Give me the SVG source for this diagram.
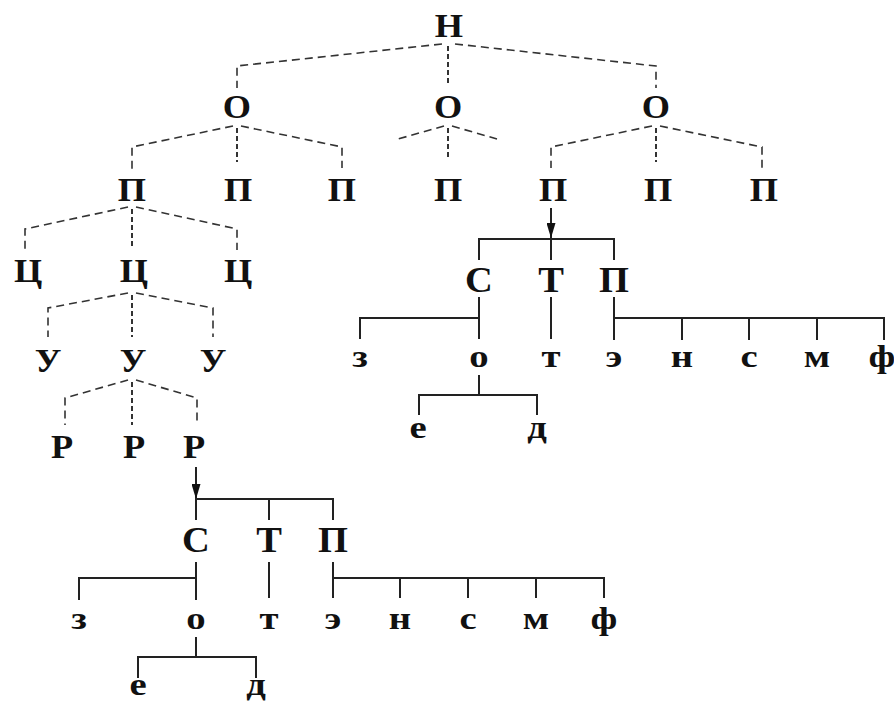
<svg xmlns="http://www.w3.org/2000/svg" width="894" height="701" viewBox="0 0 894 701">
<style>
text{font-family:"Liberation Serif","Times New Roman",serif;font-weight:bold;fill:#111;text-anchor:middle;transform-box:fill-box;transform-origin:center}
.u{font-size:33px;transform:scaleX(1.1)}
.b{font-size:35px;transform:scaleX(1.1)}
.l{font-size:31px;transform:scaleX(1.25)}
.d{fill:none;stroke:#333;stroke-width:1.6;stroke-dasharray:8 5}
.v{fill:none;stroke:#333;stroke-width:2;stroke-dasharray:5 3}
.s{fill:none;stroke:#222;stroke-width:2}
</style>
<defs>
<marker id="ah" viewBox="0 0 10 10" refX="10" refY="5" markerWidth="15" markerHeight="9" orient="auto" markerUnits="userSpaceOnUse" preserveAspectRatio="none">
<path d="M0,0 L10,5 L0,10 z" fill="#111"/>
</marker>
</defs>
<rect width="894" height="701" fill="#fff"/>
<g id="connectors">
<polyline class="d" points="442,44 237,66 237,88"/>
<polyline class="d" points="455,44 656,66 656,88"/>
<line class="v" x1="448" y1="46" x2="448" y2="83"/>
<polyline class="d" points="233,126 132,147 132,170"/>
<polyline class="d" points="241,126 342,147 342,168"/>
<line class="v" x1="237" y1="128" x2="237" y2="162"/>
<polyline class="d" points="444,126 398,139"/>
<polyline class="d" points="452,126 497,139"/>
<line class="v" x1="448" y1="128" x2="448" y2="160"/>
<polyline class="d" points="652,126 551,147 551,168"/>
<polyline class="d" points="660,126 762,147 762,168"/>
<line class="v" x1="656" y1="128" x2="656" y2="162"/>
<polyline class="d" points="128,207 25,229 25,252"/>
<polyline class="d" points="136,207 237,229 237,250"/>
<line class="v" x1="132" y1="209" x2="132" y2="247"/>
<polyline class="d" points="128,293 48,308 48,337"/>
<polyline class="d" points="136,293 213,308 213,337"/>
<line class="v" x1="132" y1="295" x2="132" y2="337"/>
<polyline class="d" points="128,380 65,398 65,425"/>
<polyline class="d" points="136,380 197,398 197,425"/>
<line class="v" x1="132" y1="382" x2="132" y2="425"/>
<line class="s" x1="551" y1="208" x2="551" y2="238" marker-end="url(#ah)"/>
<polyline class="s" points="479,260 479,239 614,239 614,260"/>
<line class="s" x1="551" y1="239" x2="551" y2="260"/>
<line class="s" x1="479" y1="297" x2="479" y2="339"/>
<polyline class="s" points="360,339 360,318 479,318"/>
<line class="s" x1="551" y1="297" x2="551" y2="339"/>
<line class="s" x1="614" y1="297" x2="614" y2="340"/>
<polyline class="s" points="614,318 884,318 884,340"/>
<line class="s" x1="682" y1="318" x2="682" y2="340"/>
<line class="s" x1="749" y1="318" x2="749" y2="340"/>
<line class="s" x1="817" y1="318" x2="817" y2="340"/>
<line class="s" x1="479" y1="375" x2="479" y2="395"/>
<polyline class="s" points="419,415 419,395 537,395 537,415"/>
<line class="s" x1="196" y1="467" x2="196" y2="499" marker-end="url(#ah)"/>
<polyline class="s" points="196,520 196,499 333,499 333,520"/>
<line class="s" x1="269" y1="499" x2="269" y2="520"/>
<line class="s" x1="196" y1="562" x2="196" y2="600"/>
<polyline class="s" points="79,600 79,578 196,578"/>
<line class="s" x1="269" y1="562" x2="269" y2="598"/>
<line class="s" x1="333" y1="562" x2="333" y2="598"/>
<polyline class="s" points="333,578 604,578 604,598"/>
<line class="s" x1="400" y1="578" x2="400" y2="598"/>
<line class="s" x1="468" y1="578" x2="468" y2="598"/>
<line class="s" x1="536" y1="578" x2="536" y2="598"/>
<line class="s" x1="196" y1="637" x2="196" y2="657"/>
<polyline class="s" points="138,678 138,657 256,657 256,678"/>
</g>
<g id="n-H"><text class="u" x="449" y="37">Н</text></g>
<g id="n-O1"><text class="u" x="237" y="118">О</text></g>
<g id="n-O2"><text class="u" x="448" y="118">О</text></g>
<g id="n-O3"><text class="u" x="656" y="118">О</text></g>
<g id="n-P1"><text class="u" x="132" y="201">П</text></g>
<g id="n-P2"><text class="u" x="238" y="201">П</text></g>
<g id="n-P3"><text class="u" x="342" y="201">П</text></g>
<g id="n-P4"><text class="u" x="448" y="201">П</text></g>
<g id="n-P5"><text class="u" x="553" y="201">П</text></g>
<g id="n-P6"><text class="u" x="658" y="201">П</text></g>
<g id="n-P7"><text class="u" x="764" y="201">П</text></g>
<g id="n-C1"><text class="u" x="28" y="282">Ц</text></g>
<g id="n-C2"><text class="u" x="134" y="282">Ц</text></g>
<g id="n-C3"><text class="u" x="238" y="282">Ц</text></g>
<g id="n-U1"><text class="u" x="48" y="372">У</text></g>
<g id="n-U2"><text class="u" x="133" y="372">У</text></g>
<g id="n-U3"><text class="u" x="213" y="372">У</text></g>
<g id="n-R1"><text class="u" x="62" y="458">Р</text></g>
<g id="n-R2"><text class="u" x="134" y="458">Р</text></g>
<g id="n-R3"><text class="u" x="194" y="458">Р</text></g>
<g id="u-S"><text class="b" x="479" y="292">С</text></g>
<g id="u-T"><text class="b" x="551" y="292">Т</text></g>
<g id="u-P"><text class="b" x="614" y="292">П</text></g>
<g id="u-z"><text class="l" x="360" y="367">з</text></g>
<g id="u-o"><text class="l" x="479" y="367">о</text></g>
<g id="u-t"><text class="l" x="551" y="367">т</text></g>
<g id="u-e2"><text class="l" x="614" y="367">э</text></g>
<g id="u-n"><text class="l" x="682" y="367">н</text></g>
<g id="u-s"><text class="l" x="749" y="367">с</text></g>
<g id="u-m"><text class="l" x="817" y="367">м</text></g>
<g id="u-f"><text class="l" x="882" y="367">ф</text></g>
<g id="u-e"><text class="l" x="418" y="438">е</text></g>
<g id="u-d"><text class="l" x="537" y="438">д</text></g>
<g id="l-S"><text class="b" x="196" y="552">С</text></g>
<g id="l-T"><text class="b" x="269" y="552">Т</text></g>
<g id="l-P"><text class="b" x="333" y="552">П</text></g>
<g id="l-z"><text class="l" x="79" y="629">з</text></g>
<g id="l-o"><text class="l" x="196" y="629">о</text></g>
<g id="l-t"><text class="l" x="269" y="629">т</text></g>
<g id="l-e2"><text class="l" x="333" y="629">э</text></g>
<g id="l-n"><text class="l" x="400" y="629">н</text></g>
<g id="l-s"><text class="l" x="468" y="629">с</text></g>
<g id="l-m"><text class="l" x="536" y="629">м</text></g>
<g id="l-f"><text class="l" x="604" y="629">ф</text></g>
<g id="l-e"><text class="l" x="138" y="695">е</text></g>
<g id="l-d"><text class="l" x="256" y="695">д</text></g>
</svg>
